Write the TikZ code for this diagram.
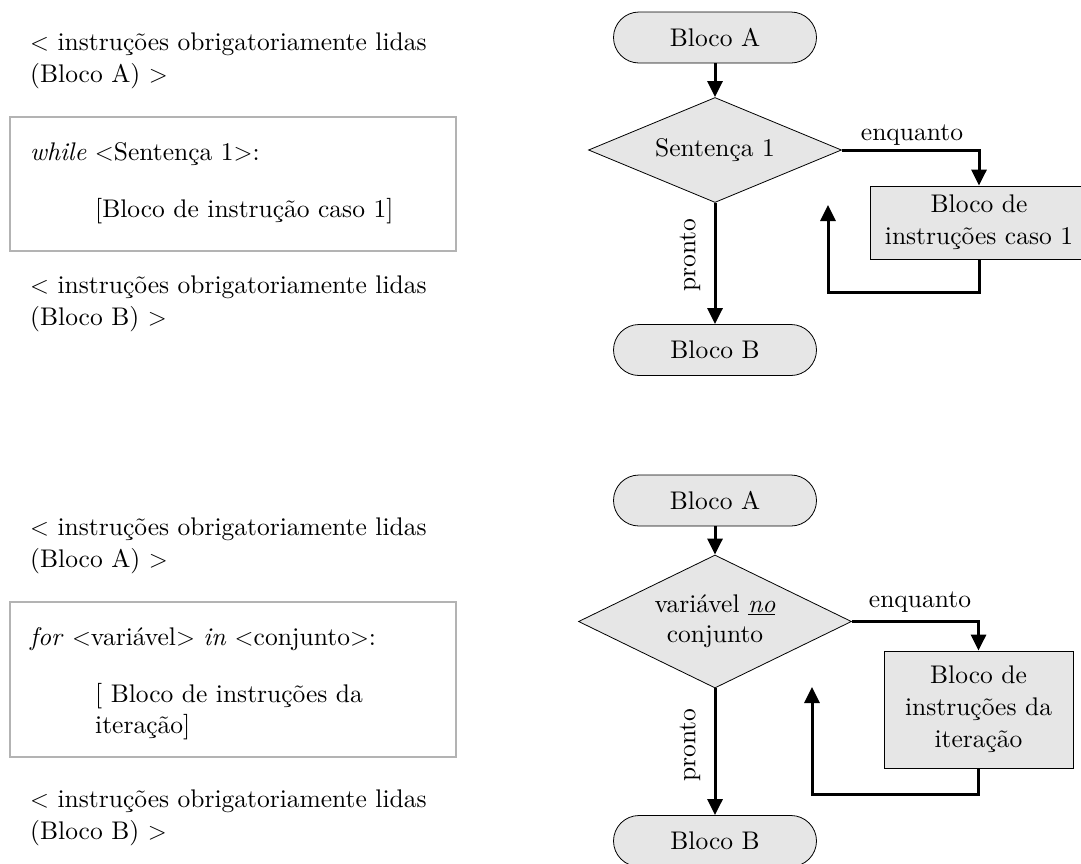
\documentclass[tikz,border=0pt]{standalone}
\usepackage{fontspec}
\setmainfont{lmroman10}[Extension=.otf, UprightFont=*-regular,
  ItalicFont=*-italic, BoldFont=*-bold, BoldItalicFont=*-bolditalic]
\usetikzlibrary{shapes.geometric,arrows.meta}
\definecolor{boxgray}{HTML}{E6E6E6}
\definecolor{framegray}{HTML}{B3B3B3}
\tikzset{
  every node/.style={font=\fontsize{25.5}{32}\selectfont},
  txt/.style={anchor=base west, inner sep=0pt},
  codebox/.style={draw=framegray, line width=2pt},
  term/.style={draw, fill=boxgray, line width=0.8pt, rounded corners=25.5pt,
    minimum width=203pt, minimum height=51pt, inner sep=0pt},
  decision/.style={diamond, draw, fill=boxgray, line width=0.8pt, inner sep=0pt,
    align=center},
  proc/.style={draw, fill=boxgray, line width=0.8pt, align=center, inner sep=0pt},
  flow/.style={line width=3pt, -{Triangle[length=16pt,width=15pt]}},
  lbl/.style={inner sep=0pt}
}
\begin{document}
\begin{tikzpicture}[x=1pt,y=-1pt]
\useasboundingbox (0,0) rectangle (1081,863);

% ---- while: code ----
\node[txt] (wa1) at (30,50) {$<$ instruções obrigatoriamente lidas};
\node[txt] (wa2) at (30,82) {(Bloco A) $>$};
\draw[codebox] (10,117) rectangle (456,251);
\node[txt] (wc1) at (30,160) {\textit{while} $<$Sentença 1$>$:};
\node[txt] (wc2) at (95,217) {[Bloco de instrução caso 1]};
\node[txt] (wb1) at (30,293) {$<$ instruções obrigatoriamente lidas};
\node[txt] (wb2) at (30,325) {(Bloco B) $>$};

% ---- while: flowchart ----
\node[term] (ta) at (715,37.5) {Bloco A};
\node[decision, aspect=2.4, minimum width=253pt, minimum height=105pt] (d1) at (715,150) {Sentença 1};
\node[proc, minimum width=218pt, minimum height=73pt] (p1) at (979,222.5)
  {Bloco de\\instruções caso 1};
\node[term] (tb) at (715,350) {Bloco B};
\coordinate (r1) at (828,205);
\draw[flow] (ta) -- (d1);
\draw[flow] (d1.east) -| (p1.north);
\node[lbl, anchor=base] (e1) at (912,140) {enquanto};
\draw[flow] (p1.south) -- ++(0,33) -| (r1);
\draw[flow] (d1.south) -- (tb.north);
\node[lbl, rotate=90] (pr1) at (690,255) {pronto};

% ---- for: code ----
\node[txt] (fa1) at (30,535) {$<$ instruções obrigatoriamente lidas};
\node[txt] (fa2) at (30,567) {(Bloco A) $>$};
\draw[codebox] (10,602) rectangle (456,757);
\node[txt] (fc1) at (30,645) {\textit{for} $<$variável$>$ \textit{in} $<$conjunto$>$:};
\node[txt] (fc2) at (95,702) {[ Bloco de instruções da};
\node[txt] (fc3) at (95,733) {iteração]};
\node[txt] (fb1) at (30,807) {$<$ instruções obrigatoriamente lidas};
\node[txt] (fb2) at (30,839) {(Bloco B) $>$};

% ---- for: flowchart ----
\node[term] (ta2) at (715,500.5) {Bloco A};
\node[decision, aspect=2.05, minimum width=273pt, minimum height=133pt,
  font=\fontsize{25.5}{30}\selectfont] (d2) at (715,621.5)
  {variável \underline{\textit{no}}\\conjunto};
\node[proc, minimum width=189pt, minimum height=117pt] (p2) at (978.5,709.5)
  {Bloco de\\instruções da\\iteração};
\node[term] (tb2) at (715,841) {Bloco B};
\coordinate (r2) at (812,687);
\draw[flow] (ta2) -- (d2);
\draw[flow] (d2.east) -| (p2.north);
\node[lbl, anchor=base] (e2) at (920,607) {enquanto};
\draw[flow] (p2.south) -- ++(0,26) -| (r2);
\draw[flow] (d2.south) -- (tb2.north);
\node[lbl, rotate=90] (pr2) at (690,745) {pronto};
\end{tikzpicture}
\end{document}
